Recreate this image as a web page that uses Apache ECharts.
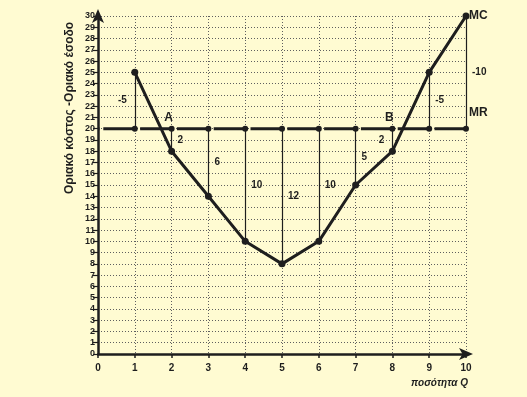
<!DOCTYPE html>
<html>
<head>
    <meta charset="utf-8" />
    <title></title>
    <script src="https://cdn.jsdelivr.net/npm/echarts@6.0.0/dist/echarts.min.js"></script>
    <style>
        * { margin: 0; padding: 0; box-sizing: border-box; }
        body { background: #fffbd2; }
        #chart { width: 527px; height: 397px; }
    </style>
</head>
<body>
    <div id="chart"></div>
    <script>
        // data
        const quantity = [1, 2, 3, 4, 5, 6, 7, 8, 9, 10];
        const mc = [25, 18, 14, 10, 8, 10, 15, 18, 25, 30];
        const mr = [20, 20, 20, 20, 20, 20, 20, 20, 20, 20, 20]; // q = 0..10
        const gapLabels = ['-5', '2', '6', '10', '12', '10', '5', '2', '-5', '-10'];
        const gapSide = ['left', 'right', 'right', 'right', 'right', 'right', 'right', 'left', 'right', 'right'];
        const pointNames = { 2: 'A', 8: 'B' };

        const chart = echarts.init(document.getElementById('chart'));
        const ink = '#1e1e1e';
        const font = "'Liberation Sans', Arial, sans-serif";

        const mcData = quantity.map((q, i) => [q, mc[i]]);
        const mrData = mr.map((v, q) => ({
            value: [q, v],
            symbol: q === 0 ? 'none' : 'circle'
        }));

        // vertical segments MR -> MC
        const gapLines = quantity.map((q, i) => [
            { coord: [q, mr[q]] },
            { coord: [q, mc[i]] }
        ]);

        // gap value labels, placed at the middle of each segment
        const gapText = quantity.map((q, i) => ({
            value: [q, (mr[q] + mc[i]) / 2],
            label: {
                formatter: gapLabels[i],
                position: gapSide[i],
                distance: gapSide[i] === 'left' ? 8 : 6
            }
        }));

        const nameText = Object.keys(pointNames).map(q => ({
            value: [Number(q), mr[q]],
            label: { formatter: pointNames[q], position: 'top', distance: 5, fontSize: 12, offset: [-3, 0] }
        }));
        nameText.push({
            value: [10, mr[10]],
            label: { formatter: 'MR', position: 'right', distance: 3, fontSize: 12, offset: [0, -16] }
        });

        const option = {
            backgroundColor: '#fffbd2',
            animation: false,
            grid: { left: 98, right: 61, top: 16, bottom: 43 },
            xAxis: {
                type: 'value',
                min: 0,
                max: 10,
                interval: 1,
                axisLine: {
                    lineStyle: { color: ink, width: 2.5 },
                    symbol: ['none', 'arrow'],
                    symbolSize: [9, 14],
                    symbolOffset: [0, 7]
                },
                axisTick: { show: true, length: 4, lineStyle: { color: ink, width: 1.5 } },
                axisLabel: { color: ink, fontSize: 10, fontWeight: 'bold', fontFamily: font, margin: 9 },
                splitLine: { show: true, lineStyle: { color: '#5f5f5f', type: [1, 2], width: 1 } }
            },
            yAxis: {
                type: 'value',
                min: 0,
                max: 30,
                interval: 1,
                axisLine: {
                    show: true,
                    lineStyle: { color: ink, width: 2.5 },
                    symbol: ['none', 'arrow'],
                    symbolSize: [9, 14],
                    symbolOffset: [0, 7]
                },
                axisTick: { show: true, length: 5, lineStyle: { color: ink, width: 1.2 } },
                axisLabel: { color: ink, fontSize: 9, fontWeight: 'bold', fontFamily: font, margin: 3 },
                splitLine: { show: true, lineStyle: { color: '#5f5f5f', type: [1, 2], width: 1 } }
            },
            graphic: [
                {
                    type: 'text',
                    x: 70,
                    y: 108,
                    rotation: Math.PI / 2,
                    style: {
                        text: 'Οριακό κόστος -Οριακό έσοδο',
                        font: "bold 12px 'Liberation Sans', Arial, sans-serif",
                        fill: ink,
                        textAlign: 'center',
                        textVerticalAlign: 'middle'
                    }
                },
                {
                    type: 'text',
                    x: 468,
                    y: 383,
                    style: {
                        text: 'ποσότητα Q',
                        font: "italic bold 10px 'Liberation Sans', Arial, sans-serif",
                        fill: ink,
                        textAlign: 'right',
                        textVerticalAlign: 'middle'
                    }
                }
            ],
            series: [
                {
                    name: 'MR',
                    type: 'line',
                    data: mrData,
                    symbolSize: 6,
                    itemStyle: { color: ink },
                    lineStyle: { color: ink, width: 3, type: [33, 3.8], dashOffset: 31.5 },
                    markLine: {
                        silent: true,
                        symbol: 'none',
                        label: { show: false },
                        lineStyle: { color: ink, width: 1.2, type: 'solid' },
                        data: gapLines
                    },
                    z: 3
                },
                {
                    name: 'MC',
                    type: 'line',
                    data: mcData,
                    symbol: 'circle',
                    symbolSize: 7,
                    itemStyle: { color: ink },
                    lineStyle: { color: ink, width: 3 },
                    endLabel: {
                        show: true,
                        formatter: 'MC',
                        color: ink,
                        fontSize: 12,
                        fontWeight: 'bold',
                        fontFamily: font,
                        distance: 3
                    },
                    z: 4
                },
                {
                    name: 'gaps',
                    type: 'scatter',
                    data: gapText,
                    symbolSize: 0,
                    itemStyle: { opacity: 1 },
                    label: { show: true, color: ink, fontSize: 10, fontWeight: 'bold', fontFamily: font },
                    z: 5
                },
                {
                    name: 'names',
                    type: 'scatter',
                    data: nameText,
                    symbolSize: 0,
                    itemStyle: { opacity: 1 },
                    label: { show: true, color: ink, fontWeight: 'bold', fontFamily: font },
                    z: 5
                }
            ]
        };

        chart.setOption(option);
    </script>
</body>
</html>
